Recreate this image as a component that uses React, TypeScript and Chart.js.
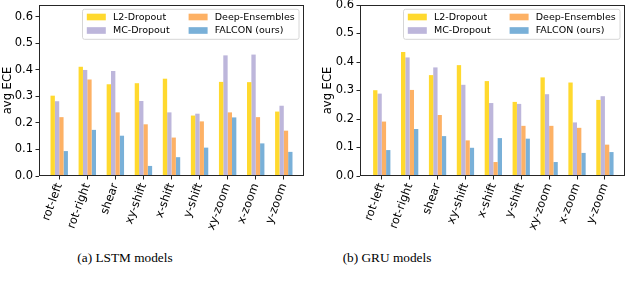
import React, { useEffect, useRef } from 'react';
import { Chart, registerables } from 'chart.js';

Chart.register(...registerables);

// ---------- data ----------
const categories = ['rot-left', 'rot-right', 'shear', 'xy-shift', 'x-shift', 'y-shift', 'xy-zoom', 'x-zoom', 'y-zoom'];
const seriesNames = ['L2-Dropout', 'MC-Dropout', 'Deep-Ensembles', 'FALCON (ours)'];

const lstmL2 = [0.303, 0.412, 0.346, 0.350, 0.367, 0.228, 0.355, 0.354, 0.243];
const lstmMC = [0.282, 0.400, 0.396, 0.283, 0.240, 0.235, 0.455, 0.458, 0.265];
const lstmDE = [0.222, 0.364, 0.240, 0.195, 0.145, 0.206, 0.240, 0.222, 0.171];
const lstmFalcon = [0.094, 0.174, 0.152, 0.038, 0.071, 0.107, 0.221, 0.123, 0.091];

const gruL2 = [0.301, 0.435, 0.354, 0.389, 0.333, 0.260, 0.346, 0.328, 0.267];
const gruMC = [0.289, 0.416, 0.381, 0.320, 0.256, 0.253, 0.287, 0.188, 0.280];
const gruDE = [0.191, 0.302, 0.214, 0.125, 0.049, 0.176, 0.176, 0.169, 0.110];
const gruFalcon = [0.091, 0.165, 0.140, 0.099, 0.133, 0.131, 0.049, 0.081, 0.084];

const yTickLabels = ['0.0', '0.1', '0.2', '0.3', '0.4', '0.5', '0.6'];
const yTitle = 'avg ECE';

// ---------- styles ----------
const seriesColors = ['#FFD92E', '#BDB6DB', '#FDB165', '#79B0D8'];
const FONT = '"DejaVu Sans"';
const AXIS_COLOR = '#262626';

const framePlugin = {
  id: 'mplFrame',
  afterDatasetsDraw(chart: any) {
    const { ctx, chartArea: a } = chart;
    ctx.save();
    ctx.strokeStyle = AXIS_COLOR;
    ctx.lineWidth = 1;
    const l = Math.round(a.left) + 0.5;
    const r = Math.round(a.right) - 0.5;
    const t = Math.round(a.top) + 0.5;
    const b = Math.round(a.bottom) - 0.5;
    ctx.strokeRect(l, t, r - l, b - t);
    ctx.restore();
  },
};

const legendPlugin = {
  id: 'mplLegend',
  afterDraw(chart: any) {
    const { ctx, chartArea: a } = chart;
    const ds = chart.data.datasets;
    const fs = 9.5;
    ctx.save();
    ctx.font = `${fs}px ${FONT}`;
    const cols = [[0, 1], [2, 3]];
    const handleW = 2 * fs;
    const handleH = 0.7 * fs;
    const textPad = 0.75 * fs;
    const colSpace = 2 * fs;
    const padX = 0.45 * fs;
    const colTextW = cols.map((c) => Math.max(...c.map((i) => ctx.measureText(ds[i].label).width)));
    const colW = colTextW.map((w) => handleW + textPad + w);
    const boxW = padX * 2 + colW[0] + colSpace + colW[1];
    const boxH = 30;
    const right = a.right - 5;
    const top = a.top + 4.3;
    const left = right - boxW;
    // frame
    const rad = 2;
    ctx.beginPath();
    ctx.moveTo(left + rad, top);
    ctx.lineTo(left + boxW - rad, top);
    ctx.arcTo(left + boxW, top, left + boxW, top + rad, rad);
    ctx.lineTo(left + boxW, top + boxH - rad);
    ctx.arcTo(left + boxW, top + boxH, left + boxW - rad, top + boxH, rad);
    ctx.lineTo(left + rad, top + boxH);
    ctx.arcTo(left, top + boxH, left, top + boxH - rad, rad);
    ctx.lineTo(left, top + rad);
    ctx.arcTo(left, top, left + rad, top, rad);
    ctx.closePath();
    ctx.fillStyle = 'rgba(255,255,255,0.85)';
    ctx.fill();
    ctx.strokeStyle = '#d6d6d6';
    ctx.lineWidth = 1;
    ctx.stroke();
    // entries
    const rowY = [top + 7.7, top + 21.2];
    let x = left + padX;
    cols.forEach((c, ci) => {
      c.forEach((i, ri) => {
        const cy = rowY[ri];
        ctx.fillStyle = ds[i].backgroundColor;
        ctx.fillRect(x, cy - handleH / 2, handleW, handleH);
        ctx.fillStyle = '#000';
        ctx.textBaseline = 'middle';
        ctx.textAlign = 'left';
        ctx.fillText(ds[i].label, x + handleW + textPad, cy + 0.5);
      });
      x += colW[ci] + colSpace;
    });
    ctx.restore();
  },
};

type PanelProps = {
  series: number[][];
  yMax: number;
  xMin: number;
  xMax: number;
  yWidth: number;
  padRight: number;
};

const CANVAS_W = 320;
const CANVAS_H = 240;
const PLOT_BOTTOM = 176;

function Panel({ series, yMax, xMin, xMax, yWidth, padRight }: PanelProps) {
  const ref = useRef<HTMLCanvasElement | null>(null);
  useEffect(() => {
    if (!ref.current) return;
    const tickFont = { family: FONT, size: 11.5 };
    const chart = new Chart(ref.current, {
      type: 'bar',
      data: {
        datasets: series.map((vals, si) => ({
          label: seriesNames[si],
          data: vals.map((v, i) => ({ x: i, y: v })),
          backgroundColor: seriesColors[si],
          borderWidth: 0,
          categoryPercentage: 0.62,
          barPercentage: 1.0,
        })),
      },
      options: {
        responsive: false,
        animation: false,
        layout: { padding: { left: 0, top: 5, right: padRight, bottom: 0 } },
        plugins: { legend: { display: false }, tooltip: { enabled: false } },
        scales: {
          x: {
            type: 'linear',
            min: xMin,
            max: xMax,
            offset: false,
            border: { display: false },
            grid: { display: true, drawOnChartArea: false, drawTicks: true, tickLength: 3.5, color: AXIS_COLOR, offset: false },
            ticks: {
              stepSize: 1,
              includeBounds: false,
              autoSkip: false,
              minRotation: 70,
              maxRotation: 70,
              padding: 2,
              color: '#000',
              font: tickFont,
              callback: (v: any) => categories[Math.round(Number(v))] ?? '',
            },
            afterFit: (s: any) => {
              s.height = CANVAS_H - PLOT_BOTTOM;
              s.paddingLeft = 0;
              s.paddingRight = 0;
            },
          },
          y: {
            type: 'linear',
            min: 0,
            max: yMax,
            border: { display: false },
            grid: { display: true, drawOnChartArea: false, drawTicks: true, tickLength: 3.5, color: AXIS_COLOR },
            ticks: {
              stepSize: 0.1,
              includeBounds: false,
              padding: 2.5,
              color: '#000',
              font: tickFont,
              callback: (v: any) => yTickLabels[Math.round(Number(v) * 10)] ?? '',
            },
            title: { display: true, text: yTitle, color: '#000', font: tickFont, padding: { top: 1, bottom: 0 } },
            afterFit: (s: any) => {
              s.width = yWidth;
              s.paddingTop = 0;
              s.paddingBottom = 0;
            },
          },
        },
      } as any,
      plugins: [framePlugin, legendPlugin],
    });
    return () => chart.destroy();
  }, []);
  return <canvas ref={ref} width={CANVAS_W} height={CANVAS_H} style={{ width: CANVAS_W, height: CANVAS_H, display: 'block' }} />;
}

const captionStyle: React.CSSProperties = {
  position: 'absolute',
  top: 250,
  fontFamily: '"Liberation Serif", "Times New Roman", serif',
  fontSize: 13.3,
  lineHeight: '16px',
  color: '#000',
  whiteSpace: 'nowrap',
  transform: 'translateX(-50%)',
};

export default function App() {
  return (
    <div style={{ position: 'fixed', left: 0, top: 0, width: 640, height: 287, background: '#fff', overflow: 'hidden' }}>
      <div style={{ position: 'absolute', left: 0, top: 0 }}>
        <Panel series={[lstmL2, lstmMC, lstmDE, lstmFalcon]} yMax={0.645} xMin={-0.72} xMax={8.72} yWidth={39} padRight={16} />
      </div>
      <div style={{ position: 'absolute', left: 320, top: 0 }}>
        <Panel series={[gruL2, gruMC, gruDE, gruFalcon]} yMax={0.6} xMin={-0.78} xMax={8.72} yWidth={40} padRight={15} />
      </div>
      <div style={{ ...captionStyle, left: 125 }}>(a) LSTM models</div>
      <div style={{ ...captionStyle, left: 387 }}>(b) GRU models</div>
    </div>
  );
}
